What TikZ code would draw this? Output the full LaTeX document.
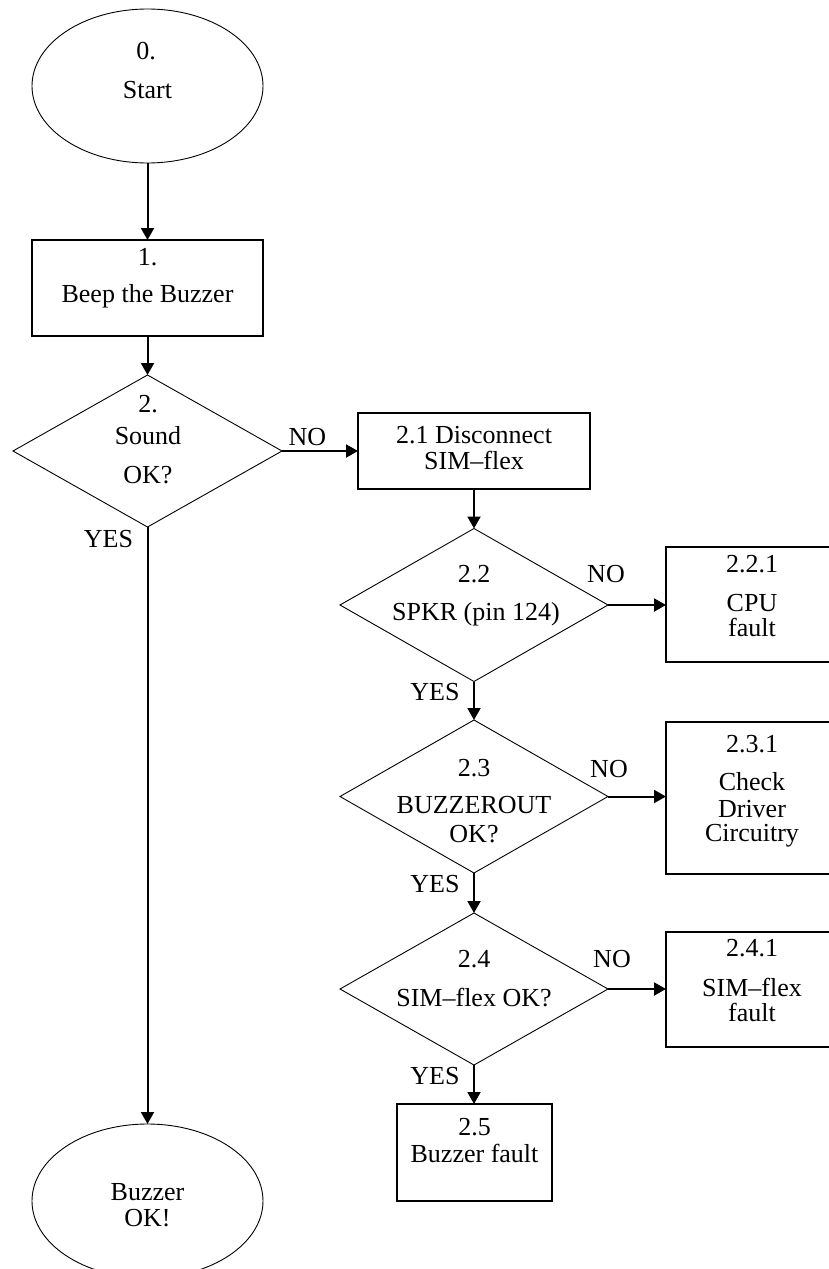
\documentclass[tikz,border=0pt]{standalone}
\usepackage{fontspec}
\setmainfont{Liberation Serif}
\usetikzlibrary{shapes.geometric,arrows.meta}
\begin{document}
\begin{tikzpicture}[x=1pt,y=-1pt,
  every node/.style={inner sep=0pt, outer sep=0pt},
  terminal/.style={ellipse, draw, line width=0.9pt, minimum width=231pt, minimum height=154pt},
  procbox/.style={rectangle, draw, line width=2.2pt},
  decision/.style={diamond, draw, line width=0.9pt, minimum width=268pt, minimum height=153pt},
  txt/.style={anchor=base, font=\fontsize{26}{30}\selectfont},
  flow/.style={line width=2pt, -{Triangle[length=12pt,width=13pt]}},
]
\clip (0,0) rectangle (829,1269);

% shapes
\node[terminal] (start) at (147.5,86) {};
\node[procbox, minimum width=231pt, minimum height=96pt] (beep) at (147.5,288) {};
\node[decision, minimum width=269pt, minimum height=152pt] (sound) at (147.5,451) {};
\node[procbox, minimum width=232pt, minimum height=76pt] (disc) at (474,451) {};
\node[decision] (spkr) at (474,605) {};
\node[procbox, minimum width=172pt, minimum height=115pt] (cpu) at (752,604.5) {};
\node[decision] (bzout) at (474,796.5) {};
\node[procbox, minimum width=172pt, minimum height=152pt] (drv) at (752,798) {};
\node[decision, minimum height=152pt] (simok) at (474,989) {};
\node[procbox, minimum width=172pt, minimum height=115pt] (simf) at (752,989.5) {};
\node[procbox, minimum width=155pt, minimum height=97pt] (bzf) at (474.5,1152.5) {};
\node[terminal] (okend) at (147.5,1201) {};

% texts
\node[txt] (t0a) at (146,59) {0.};
\node[txt] (t0b) at (147.5,98) {Start};
\node[txt] (t1a) at (147.5,265) {1.};
\node[txt] (t1b) at (147.5,302) {Beep the Buzzer};
\node[txt] (t2a) at (148,412) {2.};
\node[txt] (t2b) at (148,444) {Sound};
\node[txt] (t2c) at (148,483) {OK?};
\node[txt] (t21a) at (474,443) {2.1 Disconnect};
\node[txt] (t21b) at (474,469) {SIM–flex};
\node[txt] (t22a) at (474,582) {2.2};
\node[txt] (t22b) at (476,620) {SPKR (pin 124)};
\node[txt] (t221a) at (752,572) {2.2.1};
\node[txt] (t221b) at (752,611) {CPU};
\node[txt] (t221c) at (752,636) {fault};
\node[txt] (t23a) at (474,776) {2.3};
\node[txt] (t23b) at (474,813) {BUZZEROUT};
\node[txt] (t23c) at (474,842) {OK?};
\node[txt] (t231a) at (752,752) {2.3.1};
\node[txt] (t231b) at (752,790) {Check};
\node[txt] (t231c) at (752,817) {Driver};
\node[txt] (t231d) at (752,841) {Circuitry};
\node[txt] (t24a) at (474,967) {2.4};
\node[txt] (t24b) at (474,1006) {SIM–flex OK?};
\node[txt] (t241a) at (752,956) {2.4.1};
\node[txt] (t241b) at (752,996) {SIM–flex};
\node[txt] (t241c) at (752,1021) {fault};
\node[txt] (t25a) at (474.5,1135) {2.5};
\node[txt] (t25b) at (474.5,1162) {Buzzer fault};
\node[txt] (tokA) at (147.5,1200) {Buzzer};
\node[txt] (tokB) at (147.5,1226) {OK!};

% branch labels
\node[txt] (no2) at (307.5,445) {NO};
\node[txt] (yes2) at (108.5,547) {YES};
\node[txt] (no22) at (606,582) {NO};
\node[txt] (yes22) at (435,700) {YES};
\node[txt] (no23) at (609,777) {NO};
\node[txt] (yes23) at (435,892) {YES};
\node[txt] (no24) at (612,967) {NO};
\node[txt] (yes24) at (435,1084) {YES};

% connectors
\draw[flow] (start.south) -- (beep.north);
\draw[flow] (beep.south) -- (sound.north);
\draw[flow] (sound.east) -- (disc.west);
\draw[flow] (sound.south) -- (okend.north);
\draw[flow] (disc.south) -- (spkr.north);
\draw[flow] (spkr.east) -- (spkr.east -| cpu.west);
\draw[flow] (spkr.south) -- (bzout.north);
\draw[flow] (bzout.east) -- (bzout.east -| drv.west);
\draw[flow] (bzout.south) -- (simok.north);
\draw[flow] (simok.east) -- (simok.east -| simf.west);
\draw[flow] (simok.south) -- (simok.south |- bzf.north);
\end{tikzpicture}
\end{document}
